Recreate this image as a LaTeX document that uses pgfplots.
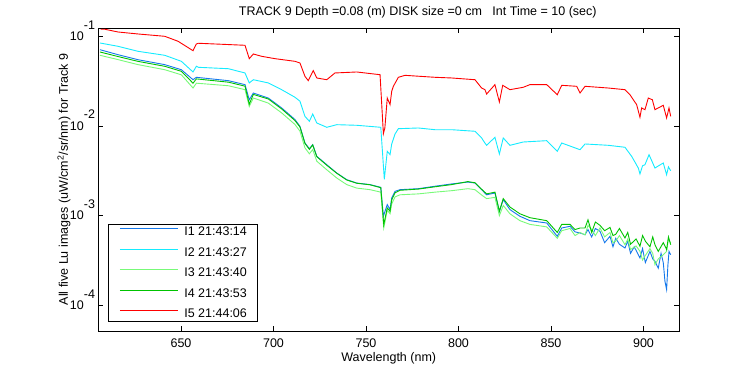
\documentclass[border=0pt]{standalone}
\usepackage{fontspec}
\setmainfont{Liberation Sans}
\usepackage{pgfplots}
\pgfplotsset{compat=1.18}
\definecolor{cIa}{RGB}{20,120,235}
\definecolor{cIb}{RGB}{20,235,255}
\definecolor{cIc}{RGB}{120,250,120}
\definecolor{cId}{RGB}{0,195,0}
\definecolor{cIe}{RGB}{255,0,0}
\newcommand{\lfont}{\fontsize{12.5}{14}\selectfont}
\begin{document}
\begin{tikzpicture}
\begin{axis}[
  name=ax,
  scale only axis, width=580.5pt, height=303pt,
  xmin=605.4, xmax=919.2,
  ymode=log, log basis y=10, ymin=5.18e-5, ymax=0.1237,
  xtick={650,700,750,800,850,900},
  ytick={1e-4,1e-3,1e-2,1e-1},
  yticklabels={10\smash{\raisebox{11.5pt}{-4}},10\smash{\raisebox{11.5pt}{-3}},10\smash{\raisebox{11.5pt}{-2}},10\smash{\raisebox{11.5pt}{-1}}},
  /pgf/number format/assume math mode=true,
  /pgf/number format/set thousands separator={},
  tick label style={font=\lfont, black},
  xticklabel style={yshift=-4pt},
  axis line style={black, line width=0.9pt},
  every tick/.style={black, line width=0.9pt},
  major tick length=5pt, minor tick length=3pt,
  title={TRACK 9 Depth =0.08 (m) DISK size =0 cm\ \ \ Int Time = 10 (sec)},
  every axis title/.style={at={(axis description cs:0.5,1)}, xshift=29pt, yshift=16pt, anchor=center, font=\lfont},
  xlabel={Wavelength (nm)},
  every axis x label/.style={at={(axis description cs:0.5,0)}, yshift=-27pt, anchor=center, font=\lfont},
  ylabel={All five Lu images (uW/cm\textsuperscript{2}/sr/nm) for Track 9},
  every axis y label/.style={at={(axis description cs:0,0.5)}, xshift=-34.5pt, rotate=90, anchor=center, font=\lfont},
  legend style={at={(axis description cs:0,0)}, anchor=south west, xshift=9.5pt, yshift=8.7pt,
    draw=black, line width=0.9pt, fill=white, font=\lfont,
    inner xsep=11pt, inner ysep=1.7pt, row sep=9.05pt, column sep=6pt,
    nodes={inner sep=0pt, text height=9pt, text depth=2.5pt}},
  legend cell align=left,
  legend image code/.code={\draw[#1, line width=0.9pt] (0pt,3.5pt) -- (58pt,3.5pt);},
  every axis plot/.append style={line width=0.9pt},
]
% I1
\addplot[color=cIa] coordinates {
(606.2,0.0709)(615.9,0.0624)(626.8,0.0548)(641.2,0.0483)(650.2,0.0424)(656.5,0.0328)(658.3,0.0349)
(675.6,0.0320)(684.6,0.0289)(686.9,0.0196)(689.1,0.0233)(697.2,0.0205)(704.4,0.0159)(711.6,0.0118)
(714.3,0.00992)(717.0,0.00646)(719.4,0.00558)(721.2,0.00619)(723.4,0.00459)(728.8,0.00370)(734.2,0.00299)
(739.6,0.00252)(745.0,0.00231)(752.2,0.00222)(758.0,0.00207)(759.4,0.000985)(761.5,0.00133)(763.0,0.00117)
(763.9,0.00158)(765.7,0.00187)(768.4,0.00195)(778.3,0.00200)(787.3,0.00213)(796.3,0.00226)(805.1,0.00237)
(808.9,0.00231)(812.5,0.00195)(815.2,0.00171)(819.7,0.00179)(822.1,0.00112)(824.2,0.00151)(827.8,0.00117)
(833.2,0.000985)(838.6,0.000880)(847.7,0.000829)(853.4,0.000589)(855.8,0.000729)(860.3,0.000762)
(863,0.00066)(865.7,0.000641)(868.4,0.000614)(870,0.00070)(872,0.00058)(874,0.00072)(876.5,0.000670)(879,0.00050)
(881.9,0.000589)(883.5,0.00045)(885,0.00056)(887,0.00048)(890.0,0.000436)(891.5,0.00052)(893,0.00038)(895,0.00045)
(898.1,0.000338)(899.5,0.00043)(901,0.00030)(903.5,0.00040)(905,0.00033)(906.2,0.000310)(908,0.00026)
(909.5,0.00038)(910.7,0.00030)(911.6,0.000186)(912.5,0.000150)(913.2,0.00028)(913.8,0.00040)(914.7,0.000367)
};
\addlegendentry{I1 21:43:14}
% I2
\addplot[color=cIb] coordinates {
(606.2,0.0842)(615.9,0.0774)(626.8,0.0680)(641.2,0.0614)(650.2,0.0526)(656.5,0.0400)(658.3,0.0463)
(659.4,0.0451)(675.6,0.0435)(684.6,0.0390)(686.9,0.0302)(689.1,0.0328)(697.2,0.0302)(704.4,0.0254)
(711.6,0.0209)(714.3,0.0189)(717.0,0.0128)(719.4,0.01128)(721.2,0.0136)(723.4,0.0108)(728.8,0.00967)
(734.2,0.01034)(745.0,0.01018)(758.0,0.00967)(759.9,0.00255)(761.5,0.00522)(763.0,0.00479)(763.9,0.00630)
(765.7,0.00814)(767.5,0.00933)(778.3,0.00950)(787.3,0.00909)(796.3,0.00909)(808.9,0.00873)(812.5,0.00735)
(814.3,0.00646)(815.2,0.00609)(819.7,0.00748)(822.1,0.00487)(824.2,0.00735)(827.8,0.00609)(835.0,0.00663)
(847.7,0.00686)(853.4,0.00522)(855.8,0.00646)(865.7,0.00544)(868.4,0.00630)(881.0,0.00609)(890.0,0.00579)
(893.6,0.00459)(897.2,0.00340)(898.1,0.00292)(899.5,0.00360)(900.8,0.00370)(903.0,0.00479)(906.2,0.00340)
(910.7,0.00387)(912.5,0.00286)(913.5,0.00350)(914.7,0.00317)
};
\addlegendentry{I2 21:43:27}
% I3
\addplot[color=cIc] coordinates {
(606.2,0.0614)(615.9,0.0550)(626.8,0.0483)(641.2,0.0424)(650.2,0.0372)(656.5,0.0265)(658.3,0.0300)
(675.6,0.0281)(684.6,0.0254)(686.9,0.0165)(689.1,0.0205)(697.2,0.0180)(704.4,0.0140)(711.6,0.0104)
(714.3,0.00875)(717.0,0.00570)(719.4,0.00490)(721.2,0.00545)(723.4,0.00405)(728.8,0.00325)(734.2,0.00263)
(739.6,0.00222)(745.0,0.00203)(752.2,0.00195)(758.0,0.00183)(759.6,0.000729)(761.5,0.00115)(763.0,0.00105)
(763.9,0.00135)(765.7,0.00162)(768.4,0.00171)(778.3,0.00175)(787.3,0.00183)(796.3,0.00190)(805.1,0.00200)
(808.9,0.00195)(812.5,0.00170)(815.2,0.00155)(819.7,0.00160)(822.1,0.00100)(824.2,0.00130)(827.8,0.00105)
(833.2,0.00088)(838.6,0.00080)(847.7,0.00075)(853.4,0.00056)(855.8,0.00068)(860.3,0.00072)(863,0.00060)
(865.7,0.00065)(868.4,0.00061)(870,0.00078)(872,0.00070)(874,0.00060)(876.5,0.00073)(879,0.00058)
(881.9,0.00065)(883.5,0.00050)(885,0.00052)(887,0.00060)(890.0,0.000475)(891.5,0.00055)(893,0.00042)
(896,0.00046)(898.1,0.000401)(899.5,0.00032)(901,0.00036)(903.5,0.00043)(905,0.00038)(906.2,0.000284)
(908,0.00033)(910.7,0.000367)(912.5,0.00040)(913.5,0.00055)(914.7,0.000496)
};
\addlegendentry{I3 21:43:40}
% I4
\addplot[color=cId] coordinates {
(606.2,0.0668)(615.9,0.0595)(626.8,0.0525)(641.2,0.0463)(650.2,0.0407)(656.5,0.0300)(658.3,0.0335)
(675.6,0.0308)(684.6,0.0278)(686.9,0.0175)(689.1,0.0225)(697.2,0.0200)(704.4,0.0155)(711.6,0.0115)
(714.3,0.00975)(717.0,0.00640)(719.4,0.00550)(721.2,0.00615)(723.4,0.00455)(728.8,0.00365)(734.2,0.00297)
(739.6,0.00250)(745.0,0.00230)(752.2,0.00221)(758.0,0.00205)(759.6,0.000794)(761.5,0.00122)(763.0,0.00112)
(763.9,0.00150)(765.7,0.00180)(768.4,0.00192)(778.3,0.00198)(787.3,0.00210)(796.3,0.00222)(805.1,0.00240)
(808.9,0.00233)(812.5,0.00197)(815.2,0.00175)(819.7,0.00183)(822.1,0.00112)(824.2,0.00155)(827.8,0.00125)
(833.2,0.00105)(838.6,0.000950)(847.7,0.000880)(853.4,0.000650)(855.8,0.000800)(860.3,0.000800)(863,0.00070)
(865.7,0.000729)(868.4,0.000730)(870,0.00090)(872,0.000650)(874,0.00085)(876.5,0.000780)(879,0.00068)
(881.9,0.000740)(883.5,0.00060)(885,0.00062)(887,0.00072)(890.0,0.000564)(891.5,0.00065)(893,0.00048)
(896,0.00055)(898.1,0.000456)(899.5,0.00060)(901,0.00052)(903.5,0.00045)(905,0.00058)(906.2,0.000475)
(908,0.00040)(910.7,0.00050)(912.5,0.00042)(913.5,0.00058)(914.7,0.000475)
};
\addlegendentry{I4 21:43:53}
% I5
\addplot[color=cIe] coordinates {
(606.5,0.1197)(608.9,0.1197)(615.9,0.1117)(626.8,0.1061)(641.2,0.1000)(648.4,0.0880)(656.5,0.0691)
(658.3,0.0821)(659.4,0.0836)(684.6,0.0794)(686.9,0.0563)(689.1,0.0635)(693.6,0.0598)(700.8,0.0563)
(711.6,0.0526)(714.3,0.0504)(717.0,0.0358)(718.8,0.0320)(721.5,0.0414)(723.4,0.0343)(728.8,0.0328)
(733.2,0.0390)(745.0,0.0400)(757.6,0.0373)(759.4,0.0082)(760.2,0.0095)(761.5,0.0205)(763.0,0.0173)
(763.9,0.0244)(764.8,0.0277)(767.5,0.0349)(771.1,0.0367)(787.3,0.0349)(796.3,0.0343)(808.9,0.0328)
(812.5,0.0265)(814.3,0.0254)(815.2,0.0227)(819.7,0.0289)(822.1,0.0185)(823.9,0.0284)(827.8,0.0254)
(835.0,0.0270)(838.6,0.0289)(847.7,0.0289)(853.4,0.0223)(855.8,0.0284)(863.9,0.0277)(865.7,0.0233)
(868.4,0.0277)(881.0,0.0265)(890.0,0.0254)(892.7,0.0223)(896.3,0.0173)(898.1,0.0125)(899.0,0.0159)
(900.8,0.0152)(902.6,0.0205)(904.8,0.0196)(906.2,0.0152)(910.7,0.0170)(912.5,0.0123)(913.8,0.0159)
(914.7,0.0128)
};
\addlegendentry{I5 21:44:06}
\coordinate (bl) at (rel axis cs:0,0);
\coordinate (tr) at (rel axis cs:1,1);
\end{axis}
\path[use as bounding box] ([xshift=-98.5pt,yshift=-44pt]bl) rectangle ([xshift=71pt,yshift=28pt]tr);
\end{tikzpicture}
\end{document}
